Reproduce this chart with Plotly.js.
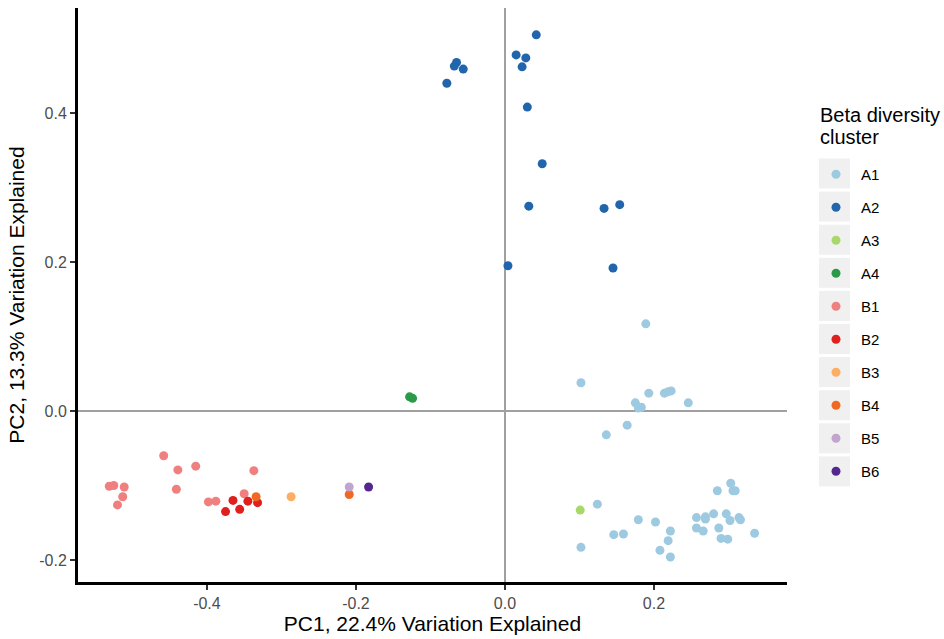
<!DOCTYPE html>
<html>
<head>
<meta charset="utf-8">
<script src="https://cdn.plot.ly/plotly-3.0.1.min.js"></script>
<style>html,body{margin:0;padding:0;background:#fff;}#chart{width:944px;height:639px;}</style>
</head>
<body>
<div id="chart"></div>
<script>
var clusters = ['A1','A2','A3','A4','B1','B2','B3','B4','B5','B6'];
var clusterColors = ['#9ECAE1','#2166AC','#A6D96A','#2B9A48','#F08080','#E0201C','#FDAE62','#F16822','#C2A5CF','#54278F'];
var legendTitleLines = ['Beta diversity','cluster'];

var a1X = [0.189,0.102,0.193,0.214,0.219,0.223,0.246,0.175,0.179,0.183,0.164,0.136,
           0.124,0.102,0.146,0.159,0.179,0.202,0.222,0.219,0.208,0.222,0.257,0.269,0.269,0.280,
           0.297,0.302,0.314,0.316,0.285,0.303,0.306,0.309,0.257,0.266,0.287,0.290,0.299,0.335];
var a1Y = [0.117,0.038,0.024,0.024,0.026,0.027,0.011,0.011,0.004,0.005,-0.019,-0.032,
           -0.125,-0.183,-0.166,-0.165,-0.146,-0.149,-0.161,-0.174,-0.187,-0.196,-0.143,-0.142,-0.145,-0.138,
           -0.138,-0.147,-0.143,-0.146,-0.107,-0.097,-0.107,-0.107,-0.157,-0.161,-0.157,-0.171,-0.172,-0.164];
var a2X = [0.042,0.015,0.028,0.023,0.030,0.050,-0.065,-0.068,-0.056,-0.078,0.032,0.133,0.154,0.004,0.145];
var a2Y = [0.505,0.478,0.474,0.462,0.408,0.332,0.468,0.463,0.459,0.440,0.275,0.272,0.277,0.195,0.192];
var a3X = [0.101];
var a3Y = [-0.133];
var a4X = [-0.128,-0.124];
var a4Y = [0.019,0.017];
var b1X = [-0.458,-0.439,-0.415,-0.337,-0.531,-0.525,-0.511,-0.513,-0.520,-0.441,-0.398,-0.388,-0.350];
var b1Y = [-0.060,-0.079,-0.074,-0.080,-0.101,-0.100,-0.102,-0.115,-0.126,-0.105,-0.122,-0.121,-0.111];
var b2X = [-0.365,-0.375,-0.356,-0.345,-0.332];
var b2Y = [-0.120,-0.135,-0.132,-0.121,-0.123];
var b3X = [-0.287];
var b3Y = [-0.115];
var b4X = [-0.334,-0.209];
var b4Y = [-0.115,-0.112];
var b5X = [-0.209];
var b5Y = [-0.102];
var b6X = [-0.183];
var b6Y = [-0.102];

var xTickVals = [-0.4,-0.2,0.0,0.2];
var xTickText = ['-0.4','-0.2','0.0','0.2'];
var yTickVals = [-0.2,0.0,0.2,0.4];
var yTickText = ['-0.2','0.0','0.2','0.4'];

var seriesX = [a1X,a2X,a3X,a4X,b1X,b2X,b3X,b4X,b5X,b6X];
var seriesY = [a1Y,a2Y,a3Y,a4Y,b1Y,b2Y,b3Y,b4Y,b5Y,b6Y];

var traces = clusters.map(function(name,i){
  return {
    type:'scatter', mode:'markers', name:name, legendgroup:name,
    x:seriesX[i], y:seriesY[i],
    marker:{color:clusterColors[i], size:9, line:{width:0}},
    hoverinfo:'x+y+name'
  };
});

var ml=78, mr=157, mt=8, mb=57, W=944, H=639;
var pw=W-ml-mr, ph=H-mt-mb;
function px2x(p){ return (p-ml)/pw; }
function py2y(p){ return (H-mb-p)/ph; }

// legend key background boxes
var shapes = clusters.map(function(c,i){
  var cy = 173.5 + 33.1*i;
  return {type:'rect', xref:'paper', yref:'paper',
    x0:px2x(819), x1:px2x(850), y0:py2y(cy+15), y1:py2y(cy-15),
    fillcolor:'#F0F0F0', line:{width:0}, layer:'below'};
});

var font = 'Liberation Sans, Arial, Helvetica, sans-serif';
var annotations = legendTitleLines.map(function(t,i){
  return {text:t, xref:'paper', yref:'paper', x:px2x(818), y:py2y(115 + 22*i),
    xanchor:'left', yanchor:'middle', showarrow:false,
    font:{size:20, color:'#000', family:font}};
});

var layout = {
  width:W, height:H,
  margin:{l:ml, r:mr, t:mt, b:mb, autoexpand:false},
  paper_bgcolor:'#ffffff', plot_bgcolor:'#ffffff',
  font:{family:font, color:'#000'},
  showlegend:true,
  legend:{
    x:px2x(811), xanchor:'left', y:py2y(158), yanchor:'top',
    font:{size:15, color:'#000', family:font},
    tracegroupgap:10.5, itemwidth:40, bgcolor:'rgba(0,0,0,0)'
  },
  xaxis:{
    range:[-0.573,0.3785], showgrid:false,
    zeroline:true, zerolinecolor:'#A0A0A0', zerolinewidth:2,
    showline:true, linecolor:'#000', linewidth:3,
    ticks:'outside', ticklen:5, tickwidth:1.5, tickcolor:'#333',
    tickvals:xTickVals, ticktext:xTickText,
    tickfont:{size:16, color:'#4D4D4D', family:font},
    title:{text:'PC1, 22.4% Variation Explained', standoff:5, font:{size:21, color:'#000', family:font}},
    automargin:false, fixedrange:true
  },
  yaxis:{
    range:[-0.2295,0.541], showgrid:false,
    zeroline:true, zerolinecolor:'#A0A0A0', zerolinewidth:2,
    showline:true, linecolor:'#000', linewidth:3,
    ticks:'outside', ticklen:5, tickwidth:1.5, tickcolor:'#333',
    tickvals:yTickVals, ticktext:yTickText,
    tickfont:{size:16, color:'#4D4D4D', family:font},
    title:{text:'PC2, 13.3% Variation Explained', font:{size:21, color:'#000', family:font}},
    automargin:false, fixedrange:true
  },
  shapes:shapes,
  annotations:annotations
};

Plotly.newPlot('chart', traces, layout, {displayModeBar:false, staticPlot:true});
</script>
</body>
</html>
